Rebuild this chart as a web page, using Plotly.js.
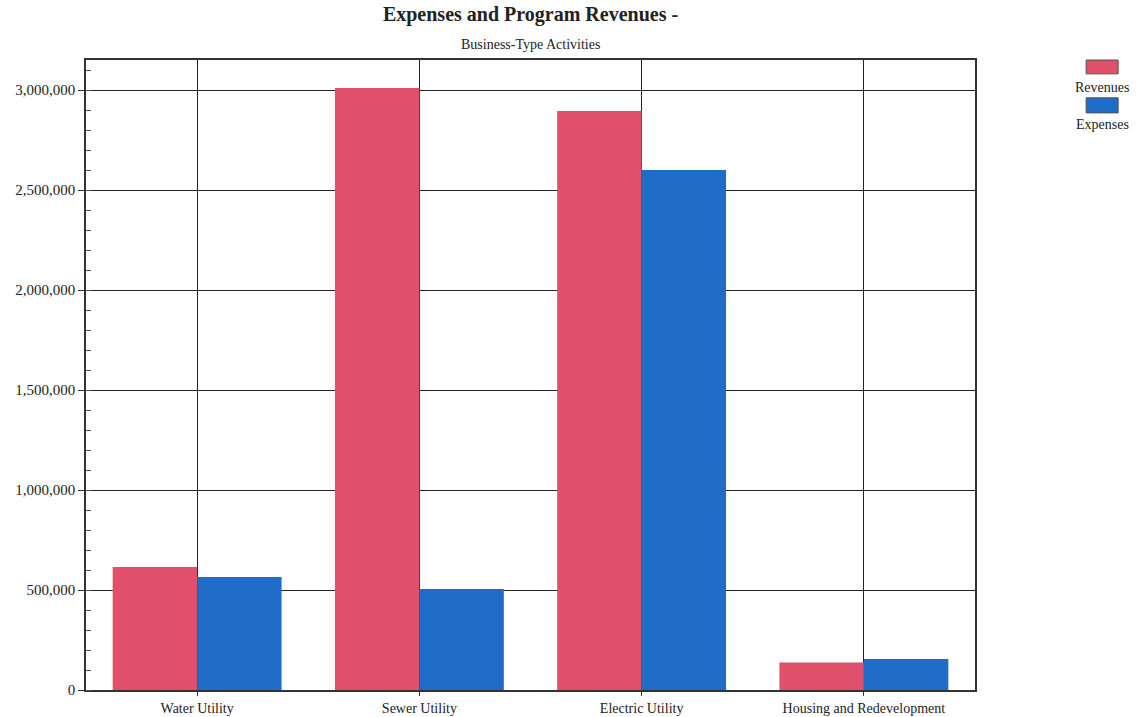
<!DOCTYPE html>
<html>
<head>
<meta charset="utf-8">
<script src="https://cdn.plot.ly/plotly-3.0.1.min.js"></script>
<style>html,body{margin:0;padding:0;background:#fff;}#chart{width:1136px;height:717px;}</style>
</head>
<body>
<div id="chart"></div>
<script>
const categories = ["Water Utility", "Sewer Utility", "Electric Utility", "Housing and Redevelopment"];
const seriesNames = ["Revenues", "Expenses"];
const revenues = [615000, 3010000, 2895000, 137000];
const expenses = [565000, 505000, 2600000, 155000];
const seriesColors = ["#e0506a", "#1f6dc6"];
const yTickVals = [0, 500000, 1000000, 1500000, 2000000, 2500000, 3000000];
const yTickText = ["0", "500,000", "1,000,000", "1,500,000", "2,000,000", "2,500,000", "3,000,000"];
const titleText = "Expenses and Program Revenues -";
const subtitleText = "Business-Type Activities";

const font = "Liberation Serif, Times New Roman, serif";
const traces = [
  {type: "bar", name: seriesNames[0], x: categories, y: revenues, marker: {color: seriesColors[0]}, showlegend: false},
  {type: "bar", name: seriesNames[1], x: categories, y: expenses, marker: {color: seriesColors[1]}, showlegend: false}
];

// custom legend: swatch above label, as in the reference
const legendSwatchY = [[0.978, 1.0], [0.916, 0.94]];
const legendTextY = [0.956, 0.897];
const shapes = [];
const annotations = [{
  xref: "paper", yref: "paper", x: 0.5, y: 1.024, xanchor: "center", yanchor: "middle",
  showarrow: false, text: subtitleText, font: {family: font, size: 14, color: "#222"}
}];
seriesNames.forEach((n, i) => {
  shapes.push({type: "rect", xref: "paper", yref: "paper", x0: 1.125, x1: 1.161,
    y0: legendSwatchY[i][0], y1: legendSwatchY[i][1],
    fillcolor: seriesColors[i], line: {color: "#555", width: 1}});
  annotations.push({xref: "paper", yref: "paper", x: 1.143, y: legendTextY[i],
    xanchor: "center", yanchor: "middle", showarrow: false, text: n,
    font: {family: font, size: 14, color: "#222"}});
});

const layout = {
  width: 1136, height: 717,
  margin: {l: 86, r: 161, t: 60, b: 27},
  paper_bgcolor: "#fff", plot_bgcolor: "#fff",
  font: {family: font, color: "#222", size: 12},
  barmode: "group", bargap: 0.24, bargroupgap: 0,
  showlegend: false,
  title: {
    text: "<b>" + titleText + "</b>",
    font: {family: font, size: 20, color: "#222"},
    x: 0.5, xref: "paper", xanchor: "center",
    y: 0.99, yref: "container", yanchor: "top"
  },
  xaxis: {
    type: "category", range: [-0.5, 3.5],
    showgrid: true, gridcolor: "#222", gridwidth: 1.4,
    showline: true, linecolor: "#333", linewidth: 1.5, mirror: true,
    ticks: "outside", ticklen: 4, tickcolor: "#333",
    tickfont: {family: font, size: 14, color: "#222"},
    automargin: false
  },
  yaxis: {
    range: [0, 3150000],
    tickvals: yTickVals, ticktext: yTickText,
    showgrid: true, gridcolor: "#222", gridwidth: 1.4,
    showline: true, linecolor: "#333", linewidth: 1.5, mirror: true,
    ticks: "outside", ticklen: 6, tickcolor: "#333",
    minor: {dtick: 100000, ticks: "inside", ticklen: 5, tickcolor: "#555", showgrid: false},
    tickfont: {family: font, size: 15, color: "#222"},
    zeroline: false
  },
  shapes: shapes,
  annotations: annotations
};
Plotly.newPlot("chart", traces, layout, {displayModeBar: false, responsive: false});
</script>
</body>
</html>
